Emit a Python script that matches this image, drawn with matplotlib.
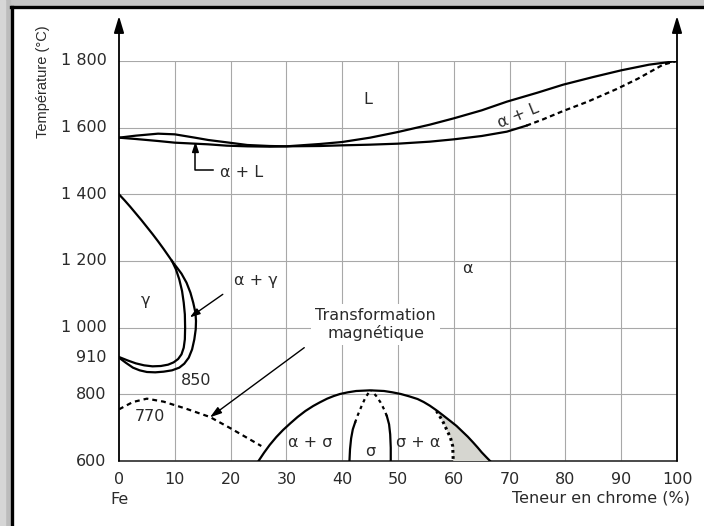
import matplotlib
matplotlib.use("Agg")
import matplotlib.pyplot as plt
from matplotlib.patches import Rectangle
from matplotlib.lines import Line2D

# ---------------- data ----------------
x_ticks = [0, 10, 20, 30, 40, 50, 60, 70, 80, 90, 100]
y_ticks = [600, 800, 910, 1000, 1200, 1400, 1600, 1800]
y_tick_labels = ["600", "800", "910", "1 000", "1 200", "1 400", "1 600", "1 800"]
grid_y = [800, 1000, 1200, 1400, 1600, 1800]

liq_x = [0, 3, 7, 10, 13.6, 16, 19.3, 23, 27, 30, 36, 40, 45, 50, 55.7, 60, 65, 69.5, 75, 79.6, 85, 90, 95, 100]
liq_T = [1570, 1576, 1582, 1580, 1570, 1563, 1556, 1548, 1545, 1544, 1551, 1557, 1570, 1587, 1609, 1628, 1652, 1678, 1705, 1729, 1752, 1772, 1789, 1800]
sol_x = [0, 3, 7, 10, 13.6, 16, 19.3, 23, 27, 30, 36, 40, 45, 50, 55.7, 60, 65, 69.5, 73]
sol_T = [1570, 1566, 1560, 1555, 1552, 1550, 1546, 1544, 1543, 1544, 1545, 1547, 1549, 1552, 1558, 1565, 1575, 1588, 1606]
sol_dash_x = [73, 76, 79.6, 84, 89.2, 93, 97.5, 100]
sol_dash_T = [1606, 1625, 1650, 1678, 1716, 1747, 1789, 1800]

gamma_out_x = [0, 1, 2, 3, 4, 5, 6, 7, 8, 9, 9.7, 10.4, 11.2, 12.1, 12.8, 13.3, 13.7, 13.8, 13.75,
               13.5, 13.1, 12.5, 11.7, 10.8, 9.5, 8, 6.5, 5, 3.7, 2.5, 1.2, 0]
gamma_out_T = [1400, 1382, 1363, 1343, 1323, 1302, 1281, 1259, 1236, 1212, 1195, 1180, 1162, 1135, 1105,
               1075, 1045, 1020, 995, 965, 935, 910, 892, 880, 872, 868, 866, 867, 872, 880, 895, 910]
gamma_in_x = [9.5, 10.2, 10.8, 11.3, 11.6, 11.8, 11.85, 11.8, 11.6, 11.2, 10.6, 9.8, 8.8, 7.5, 6, 4.5, 3, 1.5, 0]
gamma_in_T = [1200, 1175, 1145, 1110, 1075, 1040, 1000, 965, 940, 920, 906, 896, 889, 885, 884, 887, 893, 902, 912]

dome_x = [25, 26, 27, 28.2, 29.4, 30.7, 32, 33.4, 34.8, 36, 37.3, 38.5, 39.6, 41, 42.5, 45, 47.5, 49, 50.5,
          52, 53.5, 54.6, 55.7, 56.9, 58, 59.3, 60.5, 61.5, 62.5, 63.5, 64.3, 65, 65.8, 66.5]
dome_T = [600, 625, 648, 672, 693, 713, 732, 750, 765, 776, 787, 795, 801, 806, 810, 812, 810, 806, 801,
          794, 786, 777, 766, 752, 738, 721, 705, 689, 673, 655, 640, 626, 612, 600]

sig_l_x = [41.3, 41.4, 41.6, 41.9, 42.3]
sig_l_T = [600, 635, 668, 695, 715]
sig_l_dot_x = [42.3, 42.8, 43.4, 44.1, 45]
sig_l_dot_T = [715, 738, 762, 788, 812]
sig_r_x = [48.7, 48.7, 48.6, 48.4, 48.0]
sig_r_T = [600, 640, 680, 710, 735]
sig_r_dot_x = [48.0, 47.5, 46.9, 46.1, 45.2]
sig_r_dot_T = [735, 755, 775, 795, 812]

right_dot_x = [56.9, 58, 58.7, 59.4, 59.8, 59.9]
right_dot_T = [750, 720, 695, 670, 645, 600]
shade_x = [56.9, 58, 58.7, 59.4, 59.8, 59.9, 66.5, 65.8, 65, 64.3, 63.5, 62.5, 61.5, 60.5, 59.3, 58]
shade_T = [750, 720, 695, 670, 645, 600, 600, 612, 626, 640, 655, 673, 689, 705, 721, 738]

mag_x = [0, 2.5, 5, 8, 12, 16.3, 20, 25.5]
mag_T = [755, 777, 787, 778, 757, 732, 698, 645]

# ---------------- figure ----------------
fig = plt.figure(figsize=(7.04, 5.26), dpi=100)
fig.patch.set_facecolor("white")
W, H = 704, 526

# frame with shadow (top and left edges)
fig.add_artist(Rectangle((0, 1 - 5 / H), 1, 5 / H, transform=fig.transFigure, color="#c4c4c4", zorder=0))
fig.add_artist(Rectangle((0, 0), 10 / W, 1, transform=fig.transFigure, color="#bcbcbc", zorder=0))
fig.add_artist(Rectangle((0, 0), 5 / W, 1, transform=fig.transFigure, color="#d6d6d6", zorder=0))
fig.add_artist(Line2D([10.5 / W, 1], [1 - 6.5 / H, 1 - 6.5 / H], transform=fig.transFigure, color="black", lw=2.4))
fig.add_artist(Line2D([11.5 / W, 11.5 / W], [0, 1 - 6.5 / H], transform=fig.transFigure, color="black", lw=2.4))

ax = fig.add_axes([119 / W, 65 / H, (677 - 119) / W, (461 - 61) / H])
ax.set_xlim(0, 100)
ax.set_ylim(600, 1800)
for s in ax.spines.values():
    s.set_visible(False)
ax.set_xticks([])
ax.set_yticks([])

gcol = "#a8a8a8"
for xv in x_ticks[1:-1]:
    ax.plot([xv, xv], [600, 1800], color=gcol, lw=0.8, zorder=1)
for yv in grid_y:
    ax.plot([0, 100], [yv, yv], color=gcol, lw=0.8, zorder=1)

acol = "#3a3a3a"
ax.plot([0, 100], [600, 600], color=acol, lw=1.3, zorder=2, clip_on=False)
for xv in (0, 100):
    ax.annotate("", xy=(xv, 1935), xytext=(xv, 600), xycoords="data",
                arrowprops=dict(arrowstyle="-|>,head_length=1.0,head_width=0.3", color="black", lw=1.3,
                                shrinkA=0, shrinkB=0), annotation_clip=False, zorder=3)

tcol = "#2a2a2a"
fs = 11.5
for xv in x_ticks:
    ax.text(xv, 546, str(xv), ha="center", va="center", fontsize=fs, color=tcol, clip_on=False)
for yv, lab in zip(y_ticks, y_tick_labels):
    ax.text(-2.2, yv, lab, ha="right", va="center", fontsize=fs, color=tcol, clip_on=False)
ax.text(0, 486, "Fe", ha="center", va="center", fontsize=fs, color=tcol)
ax.text(102.4, 489, "Teneur en chrome (%)", ha="right", va="center", fontsize=fs, color=tcol)
ax.text(-13.6, 1737, "Température (°C)", rotation=90, ha="center", va="center", fontsize=10.5,
        family="Liberation Sans", color=tcol)

lc = "black"
lw = 1.6
ax.plot(liq_x, liq_T, color=lc, lw=lw, zorder=4)
ax.plot(sol_x, sol_T, color=lc, lw=lw, zorder=4)
ax.plot(sol_dash_x, sol_dash_T, color=lc, lw=lw, ls=(0, (2.2, 1.6)), zorder=4)
ax.plot(gamma_out_x, gamma_out_T, color=lc, lw=lw, zorder=4)
ax.plot(gamma_in_x, gamma_in_T, color=lc, lw=lw, zorder=4)
ax.fill(shade_x, shade_T, color="#d6d6d0", zorder=3, lw=0)
ax.plot(dome_x, dome_T, color=lc, lw=lw, zorder=4)
ax.plot(sig_l_x, sig_l_T, color=lc, lw=lw, zorder=4)
ax.plot(sig_r_x, sig_r_T, color=lc, lw=lw, zorder=4)
ax.plot(sig_l_dot_x, sig_l_dot_T, color=lc, lw=lw, ls=(0, (1.5, 1.8)), zorder=4)
ax.plot(sig_r_dot_x, sig_r_dot_T, color=lc, lw=lw, ls=(0, (1.5, 1.8)), zorder=4)
ax.plot(right_dot_x, right_dot_T, color=lc, lw=2.2, ls=(0, (0.9, 1.1)), zorder=4)
ax.plot(mag_x, mag_T, color=lc, lw=lw, ls=(0, (2.2, 1.8)), zorder=4)

# labels
ax.text(44.6, 1684, "L", ha="center", va="center", fontsize=fs, color=tcol)
ax.text(71.5, 1636, "α + L", ha="center", va="center", fontsize=fs, color=tcol, rotation=22,
        rotation_mode="anchor")
ax.text(18.1, 1466, "α + L", ha="left", va="center", fontsize=fs, color=tcol)
ax.plot([16.9, 13.7, 13.7], [1472, 1472, 1530], color=lc, lw=1.1, zorder=4)
ax.annotate("", xy=(13.7, 1558), xytext=(13.7, 1528),
            arrowprops=dict(arrowstyle="-|>,head_length=0.6,head_width=0.2", color="black", lw=1.1,
                            shrinkA=0, shrinkB=0), zorder=5)
ax.text(24.5, 1141, "α + γ", ha="center", va="center", fontsize=fs, color=tcol)
ax.annotate("", xy=(12.7, 1031), xytext=(18.6, 1100),
            arrowprops=dict(arrowstyle="-|>,head_length=0.6,head_width=0.2", color="black", lw=1.0,
                            shrinkA=0, shrinkB=0), zorder=5)
ax.text(4.7, 1080, "γ", ha="center", va="center", fontsize=fs, color=tcol)
ax.text(62.5, 1176, "α", ha="center", va="center", fontsize=fs, color=tcol)
ax.text(13.9, 840, "850", ha="center", va="center", fontsize=fs, color=tcol)
ax.text(5.5, 733, "770", ha="center", va="center", fontsize=fs, color=tcol)
ax.text(46, 1010, "Transformation\nmagnétique", ha="center", va="center", fontsize=fs, color=tcol,
        linespacing=1.15, zorder=6,
        bbox=dict(boxstyle="square,pad=0.25", facecolor="white", edgecolor="none"))
ax.annotate("", xy=(16.3, 731), xytext=(33.2, 940),
            arrowprops=dict(arrowstyle="-|>,head_length=0.7,head_width=0.22", color="black", lw=1.0,
                            shrinkA=0, shrinkB=0), zorder=5)
ax.text(34.2, 655, "α + σ", ha="center", va="center", fontsize=fs, color=tcol)
ax.text(45, 630, "σ", ha="center", va="center", fontsize=fs, color=tcol)
ax.text(53.6, 655, "σ + α", ha="center", va="center", fontsize=fs, color=tcol)

fig.savefig("out.png", dpi=100)
